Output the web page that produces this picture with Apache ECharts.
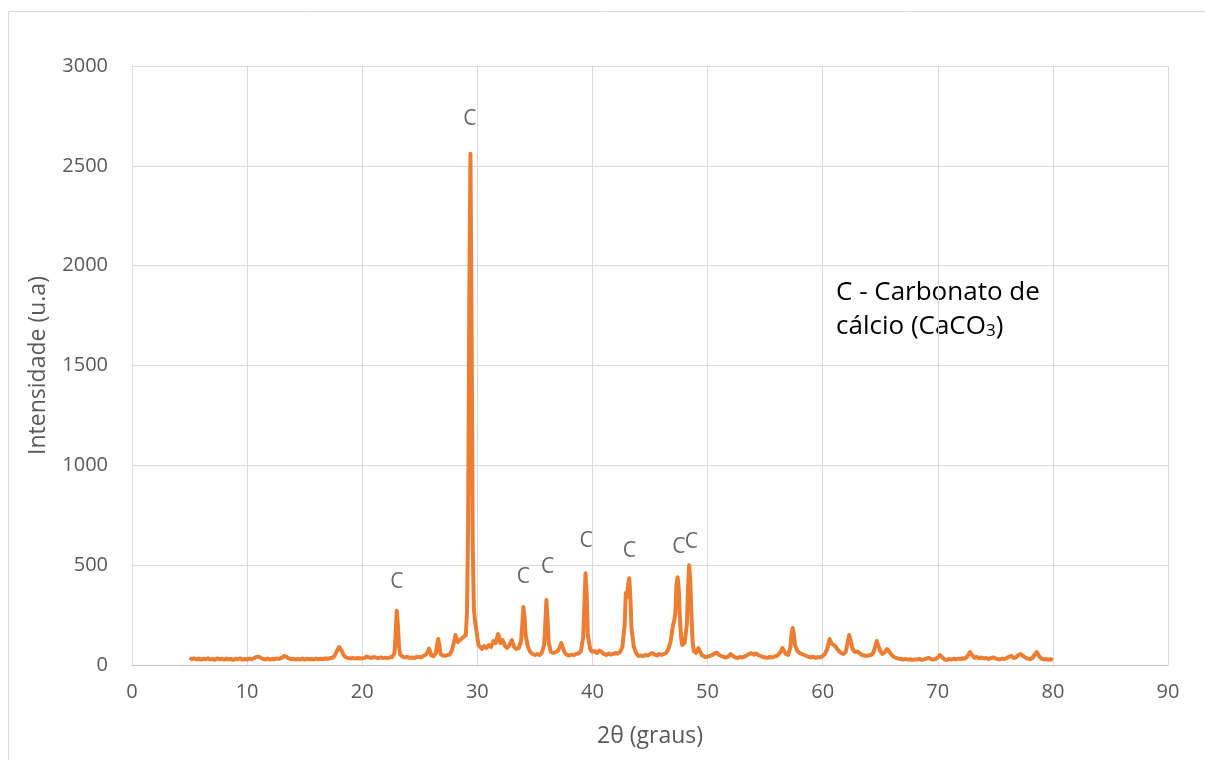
<!DOCTYPE html>
<html>
<head>
<meta charset="utf-8">
<script src="https://cdn.jsdelivr.net/npm/echarts@6/dist/echarts.min.js"></script>
<style>
html,body{margin:0;padding:0;background:#fff;}
#chart{width:1205px;height:760px;}
</style>
</head>
<body>
<div id="chart"></div>
<script>
// 2θ (graus) / Intensidade (u.a) pairs
const region5to17 = [
[5.0,35],[5.2,30],[5.4,33],[5.6,28],[5.8,32],[6.0,27],[6.2,31],[6.4,29],[6.6,34],[6.8,28],
[7.0,30],[7.2,26],[7.4,33],[7.6,29],[7.8,31],[8.0,27],[8.2,32],[8.4,28],[8.6,30],[8.8,26],
[9.0,31],[9.2,29],[9.4,33],[9.6,27],[9.8,30],[10.0,28],[10.2,32],[10.4,29],[10.6,34],[10.8,40],
[11.0,42],[11.2,35],[11.4,30],[11.6,28],[11.8,32],[12.0,27],[12.2,31],[12.4,29],[12.6,33],[12.8,30],
[13.0,36],[13.2,45],[13.4,42],[13.6,33],[13.8,29],[14.0,31],[14.2,27],[14.4,30],[14.6,28],[14.8,32],
[15.0,27],[15.2,31],[15.4,29],[15.6,30],[15.8,28],[16.0,32],[16.2,29],[16.4,31],[16.6,30],[16.8,33]
];
const region17to29 = [
[17.0,31],[17.2,34],[17.4,36],[17.6,45],[17.8,70],[18.0,90],[18.2,72],[18.4,48],[18.6,38],[18.8,35],
[19.0,33],[19.2,36],[19.4,32],[19.6,35],[19.8,34],[20.0,33],[20.2,36],[20.4,42],[20.6,38],[20.8,35],
[21.0,40],[21.2,37],[21.4,34],[21.6,38],[21.8,35],[22.0,37],[22.2,34],[22.4,38],[22.6,40],[22.8,60],
[22.9,150],[23.0,272],[23.1,200],[23.2,90],[23.3,52],[23.5,42],[23.7,38],[23.9,40],[24.1,36],[24.3,38],
[24.5,35],[24.7,39],[24.9,41],[25.1,38],[25.3,45],[25.5,50],[25.7,65],[25.8,82],[25.9,68],[26.0,48],
[26.2,44],[26.4,60],[26.5,100],[26.6,130],[26.7,100],[26.8,55],[27.0,48],[27.2,46],[27.4,50],[27.6,52],
[27.8,75],[28.0,120],[28.1,150],[28.2,145],[28.3,115],[28.4,110],[28.6,130],[28.8,140],[29.0,150]
];
const region29to40 = [
[29.1,260],[29.2,700],[29.3,1800],[29.4,2560],[29.5,1700],[29.6,600],[29.7,280],[29.8,220],[29.9,180],[30.0,140],
[30.1,100],[30.2,90],[30.4,80],[30.6,95],[30.8,85],[31.0,100],[31.2,90],[31.4,120],[31.6,110],[31.8,155],
[31.9,140],[32.0,110],[32.2,125],[32.4,95],[32.6,85],[32.8,100],[33.0,125],[33.1,115],[33.2,90],[33.4,80],
[33.6,85],[33.8,120],[33.9,200],[34.0,290],[34.1,240],[34.2,150],[34.4,90],[34.6,65],[34.8,55],[35.0,50],
[35.2,55],[35.4,50],[35.6,60],[35.8,100],[35.9,200],[36.0,325],[36.1,230],[36.2,110],[36.4,65],[36.6,60],
[36.8,65],[37.0,70],[37.2,95],[37.3,110],[37.4,90],[37.6,60],[37.8,50],[38.0,48],[38.2,52],[38.4,50],
[38.6,55],[38.8,58],[39.0,70],[39.2,140],[39.3,300],[39.4,460],[39.5,350],[39.6,150],[39.8,80]
];
const region40to50 = [
[40.0,65],[40.2,70],[40.4,60],[40.6,72],[40.8,65],[41.0,55],[41.2,50],[41.4,58],[41.6,52],[41.8,55],
[42.0,60],[42.2,58],[42.4,65],[42.6,90],[42.8,200],[42.9,360],[43.0,340],[43.1,400],[43.2,435],[43.3,330],
[43.4,180],[43.6,90],[43.8,60],[44.0,45],[44.2,48],[44.4,44],[44.6,50],[44.8,47],[45.0,55],[45.2,60],
[45.4,52],[45.6,48],[45.8,55],[46.0,50],[46.2,55],[46.4,60],[46.6,80],[46.8,120],[47.0,200],[47.1,220],
[47.2,260],[47.3,400],[47.4,440],[47.5,380],[47.6,230],[47.7,140],[47.8,100],[48.0,110],[48.2,200],[48.3,380],
[48.4,500],[48.5,420],[48.6,250],[48.7,120],[48.8,70],[49.0,60],[49.2,85],[49.3,78],[49.5,50],[49.8,40]
];
const region50to66 = [
[50.0,42],[50.2,45],[50.4,50],[50.6,58],[50.8,62],[51.0,50],[51.2,45],[51.4,40],[51.6,38],[51.8,42],
[52.0,55],[52.2,45],[52.4,38],[52.6,35],[52.8,40],[53.0,38],[53.2,42],[53.4,48],[53.6,55],[53.8,60],
[54.0,52],[54.2,58],[54.4,50],[54.6,45],[54.8,40],[55.0,38],[55.2,36],[55.4,40],[55.6,38],[55.8,42],
[56.0,45],[56.2,55],[56.4,70],[56.5,85],[56.6,80],[56.8,55],[57.0,50],[57.2,90],[57.3,160],[57.4,185],
[57.5,150],[57.6,100],[57.8,70],[58.0,60],[58.2,55],[58.4,50],[58.6,45],[58.8,40],[59.0,38],[59.2,42],
[59.4,35],[59.6,40],[59.8,38],[60.0,45],[60.2,55],[60.4,80],[60.6,130],[60.7,120],[60.8,105],[61.0,100],
[61.2,85],[61.4,70],[61.6,60],[61.8,55],[62.0,65],[62.2,120],[62.3,150],[62.4,130],[62.6,80],[62.8,65],
[63.0,68],[63.2,60],[63.4,50],[63.6,48],[63.8,45],[64.0,48],[64.2,50],[64.4,60],[64.6,100],[64.7,120],
[64.8,110],[65.0,70],[65.2,55],[65.4,65],[65.6,80],[65.8,65]
];
const region66to80 = [
[66.0,50],[66.2,40],[66.4,35],[66.6,32],[66.8,30],[67.0,28],[67.2,30],[67.4,27],[67.6,29],[67.8,26],
[68.0,28],[68.2,27],[68.4,30],[68.6,26],[68.8,28],[69.0,32],[69.2,36],[69.4,30],[69.6,27],[69.8,30],
[70.0,38],[70.2,50],[70.4,38],[70.6,28],[70.8,26],[71.0,30],[71.2,28],[71.4,31],[71.6,29],[71.8,32],
[72.0,30],[72.2,34],[72.4,33],[72.6,45],[72.8,65],[73.0,48],[73.2,36],[73.4,40],[73.6,33],[73.8,38],
[74.0,32],[74.2,35],[74.4,30],[74.6,34],[74.8,38],[75.0,33],[75.2,30],[75.4,28],[75.6,32],[75.8,30],
[76.0,35],[76.2,42],[76.4,45],[76.6,35],[76.8,38],[77.0,50],[77.2,55],[77.4,45],[77.6,38],[77.8,32],
[78.0,30],[78.2,34],[78.4,50],[78.6,65],[78.8,45],[79.0,32],[79.2,28],[79.4,30],[79.6,26],[79.8,29],[80.0,27]
];
// peak markers "C" (position of the letter: 2θ, intensity)
const peakLabels = [[23.0,415],[29.35,2735],[34.0,440],[36.1,490],[39.45,620],[43.2,570],[47.5,590],[48.6,615]];

const xTicks = {min:0, max:90, step:10};
const yTicks = {min:0, max:3000, step:500};

const pattern = [].concat(region5to17, region17to29, region29to40, region40to50, region50to66, region66to80);

const FONT = '"Open Sans", "Liberation Sans", sans-serif';
const TXT = '#595959';
const chart = echarts.init(document.getElementById('chart'), null, {renderer:'canvas'});
chart.setOption({
  backgroundColor:'#ffffff',
  animation:false,
  grid:{left:132, top:66, right:37, bottom:95, containLabel:false},
  xAxis:{
    type:'value', min:xTicks.min, max:xTicks.max, interval:xTicks.step,
    name:'2θ (graus)', nameLocation:'middle', nameGap:60,
    nameTextStyle:{color:TXT, fontFamily:FONT, fontSize:23},
    axisLine:{show:true, lineStyle:{color:'#BFBFBF', width:1}},
    axisTick:{show:false},
    axisLabel:{color:TXT, fontFamily:FONT, fontSize:20, margin:17},
    splitLine:{show:true, lineStyle:{color:'#D9D9D9', width:1}}
  },
  yAxis:{
    type:'value', min:yTicks.min, max:yTicks.max, interval:yTicks.step,
    name:'Intensidade (u.a)', nameLocation:'middle', nameGap:82,
    nameTextStyle:{color:TXT, fontFamily:FONT, fontSize:23},
    axisLine:{show:false},
    axisTick:{show:false},
    axisLabel:{color:TXT, fontFamily:FONT, fontSize:20, margin:24, formatter:function(v){return String(v);}},
    splitLine:{show:true, lineStyle:{color:'#D9D9D9', width:1}}
  },
  series:[
    {
      type:'line', data:pattern, showSymbol:false, symbol:'none',
      lineStyle:{color:'#ED7D31', width:4, join:'round'},
      z:3
    },
    {
      type:'scatter', data:peakLabels, symbolSize:20,
      itemStyle:{color:'rgba(0,0,0,0)'},
      label:{show:true, position:'inside', formatter:'C', color:'#404040', fontFamily:FONT, fontSize:21},
      z:4, silent:true
    }
  ],
  graphic:[
    {type:'rect', shape:{x:8.5, y:11.5, width:1200, height:800}, style:{fill:'none', stroke:'#D9D9D9', lineWidth:1}, silent:true},
    {type:'text', left:836, top:276, style:{
      text:'C - Carbonato de\n{n|cálcio (CaCO}{s|3}{n|)}',
      font:'26px "Open Sans"', fill:'#000000', lineHeight:34,
      rich:{n:{fontSize:26, fontFamily:'Open Sans', fill:'#000000', lineHeight:34}, s:{fontSize:17, fontFamily:'Open Sans', fill:'#000000', lineHeight:34, padding:[8,0,0,0]}}
    }}
  ]
});
</script>
</body>
</html>
